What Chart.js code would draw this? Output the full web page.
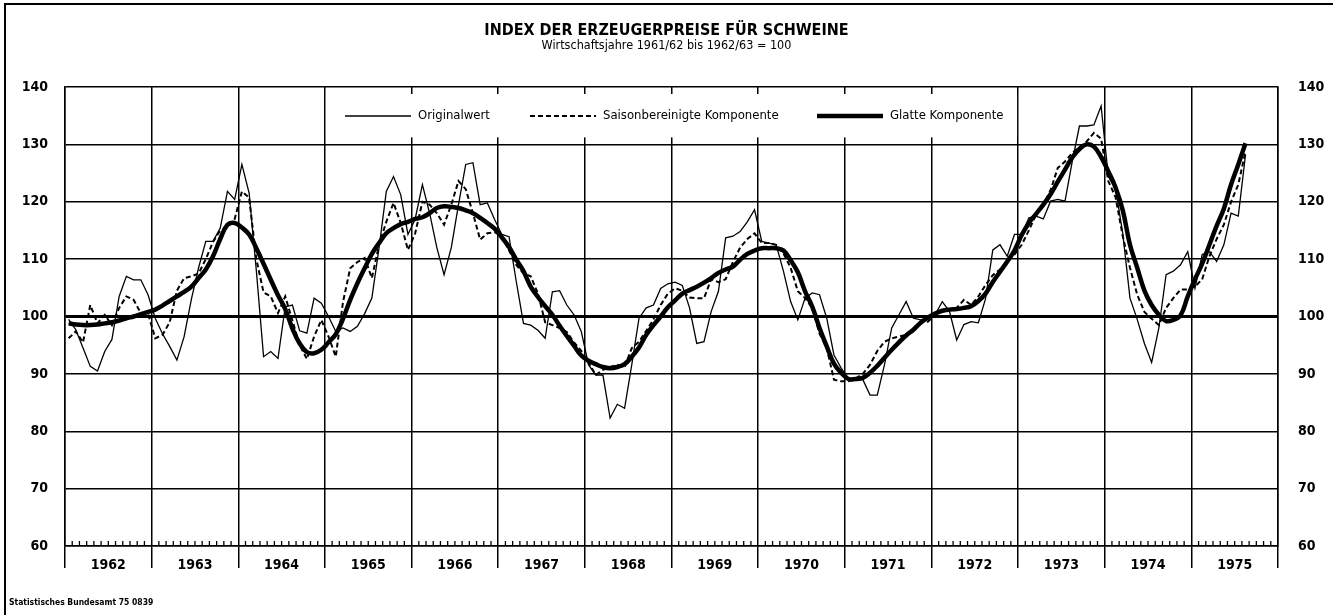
<!DOCTYPE html>
<html>
<head>
<meta charset="utf-8">
<script src="https://cdn.jsdelivr.net/npm/chart.js@4.4.1/dist/chart.umd.min.js"></script>
<style>
  html, body { margin: 0; padding: 0; background: #fff; }
  #wrap { width: 1333px; height: 615px; }
</style>
</head>
<body>
<div id="wrap"><canvas id="myChart" width="1333" height="615"></canvas></div>
<script>
// monthly values, Jan 1962 .. Aug 1975
const yearLabels = ["1962", "1963", "1964", "1965", "1966", "1967", "1968",
  "1969", "1970", "1971", "1972", "1973", "1974", "1975"];

const originalwert = [
  99.5, 97.7, 94.5, 91.3, 90.5, 93.9, 96, 103.5, 107, 106.4, 106.4, 103.8,
  99.7, 97, 94.8, 92.4, 96.5, 103, 108.5, 113.1, 113.1, 115.4, 121.8, 120.4,
  126.5, 121.5, 108, 93, 93.9, 92.7, 101.7, 102, 97.5, 97.1, 103.2, 102.3,
  100, 97.4, 98, 97.4, 98.3, 100.5, 103.2, 112, 121.8, 124.4, 121.2, 114.3,
  117, 123, 118, 112, 107.3, 112, 119.5, 126.5, 126.8, 119.5, 119.8, 116.9,
  114.3, 113.9, 106.1, 98.8, 98.5, 97.6, 96.2, 104.3, 104.5, 102, 100.3, 97.4,
  91.6, 89.8, 89.8, 82.3, 84.7, 84, 91.6, 99.7, 101.5, 102, 104.9, 105.7,
  106, 105.4, 101.5, 95.3, 95.6, 100.9, 104.4, 113.7, 114, 114.8, 116.5, 118.6,
  113.1, 112.8, 112.5, 107.9, 102.6, 99.4, 103.2, 104.1, 103.8, 99.7, 93.3, 91,
  89.2, 89.2, 89, 86.3, 86.3, 91.6, 98, 100.3, 102.6, 99.7, 99.4, 99.7,
  100.3, 102.6, 100.9, 95.9, 98.6, 99.1, 98.9, 103.1, 111.6, 112.5, 110.5, 114.3,
  114.3, 117.2, 117.5, 117, 120.1, 120.4, 120.1, 127, 133.2, 133.2, 133.4, 136.7,
  124.4, 122.3, 114.5, 103.2, 99.5, 95.3, 92, 98, 107.3, 107.9, 109, 111.3,
  104.9, 110.8, 111.3, 109.6, 112.5, 118, 117.5, 128.2
];

const saisonbereinigt = [
  96.2, 97.4, 95.5, 102, 98.8, 100.3, 98.5, 101.5, 103.5, 102.9, 100.6, 100.5,
  96.2, 96.8, 99, 104.5, 106.7, 107, 107.5, 110, 113, 115, 115.5, 117,
  121.8, 120.7, 110, 104.2, 103.5, 100.6, 103.5, 99.3, 95, 92.6, 96.5, 99.4,
  96.5, 93, 102.5, 108.4, 109.5, 110.2, 106.7, 112.5, 116.5, 119.8, 116.3, 111.6,
  114.5, 120, 119.5, 118, 116, 119.5, 123.6, 122.2, 118, 113.4, 114.5, 114.7,
  114, 111.5, 109, 107.5, 107, 104, 99, 98.5, 98, 97.3, 95.5, 94,
  92, 89.8, 90.7, 91.2, 91.6, 91.2, 94.5, 95.6, 97.5, 99.5, 102, 104,
  104.9, 104.5, 103.3, 103.2, 103.2, 106.5, 106, 106.5, 109.5, 112, 113.5, 114.5,
  112.8, 112.8, 112.5, 111, 108.5, 104.4, 103.2, 101.5, 97, 94.5, 89, 88.7,
  88.7, 89.2, 90, 91.6, 94, 95.6, 96.2, 96.5, 96.8, 97.5, 99, 99.1,
  100.2, 101, 101.3, 101.5, 102.9, 102, 103.5, 105.5, 107.2, 108.2, 109.5, 110.8,
  112.5, 115, 117.8, 119.5, 122, 125.9, 127, 128.5, 129.5, 130.5, 132, 131,
  123.6, 120.8, 114, 108.5, 103.8, 100.8, 99.6, 98.5, 101.5, 103.2, 104.7, 104.7,
  105.2, 106.5, 110.5, 113.5, 116, 120, 123, 128.8
];

const glatt = [
  98.8, 98.6, 98.5, 98.5, 98.6, 98.8, 99, 99.3, 99.7, 100, 100.4, 100.8,
  101.2, 101.9, 102.7, 103.5, 104.3, 105.2, 106.7, 108.2, 110.5, 113.5, 116, 116.3,
  115.5, 114.3, 111.9, 109.2, 106.4, 103.7, 101.3, 97.9, 95.3, 93.8, 93.6, 94.2,
  95.5, 96.9, 99.6, 102.9, 105.8, 108.4, 110.9, 112.8, 114.5, 115.4, 116.1, 116.5,
  117, 117.3, 118, 118.9, 119.2, 119.1, 118.9, 118.5, 118, 117.2, 116.3, 115.3,
  113.8, 112.1, 109.9, 107.9, 105.2, 103.4, 101.8, 100.3, 98.4, 96.6, 94.9, 93.2,
  92.3, 91.7, 91.2, 91, 91.2, 91.7, 93, 94.6, 96.8, 98.5, 100, 101.6,
  102.8, 104, 104.6, 105.2, 105.9, 106.7, 107.6, 108.2, 108.7, 109.9, 110.9, 111.5,
  111.9, 111.9, 111.9, 111.5, 109.8, 107.7, 104.4, 101.7, 98, 94.8, 91.8, 90.2,
  89.1, 89.1, 89.3, 90.2, 91.4, 92.8, 94.2, 95.5, 96.7, 97.7, 98.9, 99.8,
  100.5, 101, 101.2, 101.3, 101.5, 101.8, 102.7, 104, 106, 107.8, 109.6, 111.5,
  114.2, 116.3, 117.9, 119.5, 121.3, 123.5, 125.6, 127.7, 129.2, 130, 129.6, 127.8,
  125.3, 122.5, 118.5, 112.5, 108.5, 104.5, 102, 100.3, 99.2, 99.4, 100.2, 103.5,
  106.5, 109.2, 112.5, 115.8, 118.8, 123, 126.5, 130.2
];

const FONT = '"Liberation Sans Narrow", "DejaVu Sans Condensed", "Roboto Condensed", "Liberation Sans", sans-serif';
Chart.defaults.font.family = FONT;
Chart.defaults.color = "#000";

// month index -> x value at the middle of the month
const toPoints = (arr) => arr.map((v, i) => ({ x: i + 0.5, y: v }));

const legendItems = [
  { label: "Originalwert", x: 345, width: 1.3, dash: [] },
  { label: "Saisonbereinigte Komponente", x: 530, width: 2, dash: [5, 3] },
  { label: "Glatte Komponente", x: 817, width: 4.5, dash: [] },
];

const decor = {
  id: "decor",
  beforeDatasetsDraw(chart) {
    const { ctx, chartArea, scales } = chart;
    // white box for the legend, cutting through the grid
    const x1 = scales.x.getPixelForValue(36) + 1;
    const x2 = scales.x.getPixelForValue(132) - 1;
    const y1 = chartArea.top + 7;
    const y2 = scales.y.getPixelForValue(130) - 7;
    ctx.save();
    ctx.fillStyle = "#fff";
    ctx.fillRect(x1, y1, x2 - x1, y2 - y1);
    ctx.restore();
  },
  afterDatasetsDraw(chart) {
    const { ctx, chartArea, scales } = chart;
    ctx.save();
    // legend
    ctx.strokeStyle = "#000";
    ctx.fillStyle = "#000";
    ctx.font = "13px " + FONT;
    ctx.textBaseline = "middle";
    const ly = 116;
    legendItems.forEach((it) => {
      ctx.lineWidth = it.width;
      ctx.setLineDash(it.dash);
      ctx.beginPath();
      ctx.moveTo(it.x, ly);
      ctx.lineTo(it.x + 66, ly);
      ctx.stroke();
      ctx.setLineDash([]);
      ctx.fillText(it.label, it.x + 73, ly);
    });

    // monthly ticks on the bottom axis
    ctx.lineWidth = 1.3;
    for (let m = 1; m < 168; m++) {
      if (m % 12 === 0) continue;
      const x = scales.x.getPixelForValue(m);
      ctx.beginPath();
      ctx.moveTo(x, chartArea.bottom);
      ctx.lineTo(x, chartArea.bottom - 5);
      ctx.stroke();
    }

    // frame of the sheet
    ctx.lineWidth = 2;
    ctx.beginPath();
    ctx.moveTo(5, chart.height);
    ctx.lineTo(5, 4);
    ctx.lineTo(chart.width, 4);
    ctx.stroke();

    ctx.font = "bold 8.5px " + FONT;
    ctx.textBaseline = "alphabetic";
    ctx.fillText("Statistisches Bundesamt 75 0839", 9, 605);
    ctx.restore();
  },
};

new Chart(document.getElementById("myChart"), {
  type: "line",
  data: {
    datasets: [
      {
        label: "Glatte Komponente",
        data: toPoints(glatt),
        borderColor: "#000",
        borderWidth: 4.5,
        tension: 0.4,
        pointRadius: 0,
        order: 0,
      },
      {
        label: "Saisonbereinigte Komponente",
        data: toPoints(saisonbereinigt),
        borderColor: "#000",
        borderWidth: 2,
        borderDash: [5, 3],
        tension: 0,
        pointRadius: 0,
        order: 1,
      },
      {
        label: "Originalwert",
        data: toPoints(originalwert),
        borderColor: "#000",
        borderWidth: 1.3,
        tension: 0,
        pointRadius: 0,
        order: 2,
      },
    ],
  },
  options: {
    responsive: false,
    animation: false,
    layout: { padding: 0 },
    plugins: {
      legend: { display: false },
      tooltip: { enabled: false },
      title: {
        display: true,
        text: "INDEX DER ERZEUGERPREISE FÜR SCHWEINE",
        font: { size: 16, weight: "bold", lineHeight: 1 },
        padding: { top: 23, bottom: 0 },
        color: "#000",
      },
      subtitle: {
        display: true,
        text: "Wirtschaftsjahre 1961/62 bis 1962/63 = 100",
        font: { size: 12.5, lineHeight: 1 },
        padding: { top: 0, bottom: 35.5 },
        color: "#000",
      },
    },
    scales: {
      x: {
        type: "linear",
        min: 0,
        max: yearLabels.length * 12,
        afterBuildTicks(scale) {
          const t = [];
          for (let v = 0; v <= yearLabels.length * 12; v += 6) t.push({ value: v });
          scale.ticks = t;
        },
        afterFit(scale) { scale.height = 69; },
        grid: {
          color: (c) => (c.tick && c.tick.value % 12 === 0 ? "#000" : "rgba(0,0,0,0)"),
          tickColor: (c) => (c.tick && c.tick.value % 12 === 0 ? "#000" : "rgba(0,0,0,0)"),
          lineWidth: 1.5,
          tickWidth: 1.5,
          drawTicks: true,
          tickLength: 22,
        },
        border: { display: true, color: "#000", width: 1.5 },
        ticks: {
          autoSkip: false,
          maxRotation: 0,
          padding: -11,
          font: { size: 14, weight: "bold" },
          callback: (v) => (v % 12 === 6 ? yearLabels[(v - 6) / 12] : ""),
        },
      },
      y: {
        position: "left",
        min: 60,
        max: 140,
        afterFit(scale) { scale.width = 65; },
        ticks: { stepSize: 10, padding: 17, font: { size: 14, weight: "bold" } },
        grid: {
          color: "#000",
          lineWidth: (c) => (c.tick && c.tick.value === 100 ? 3 : 1.5),
          drawTicks: false,
        },
        border: { display: true, color: "#000", width: 1.5 },
      },
      y2: {
        position: "right",
        min: 60,
        max: 140,
        afterFit(scale) { scale.width = 55; },
        ticks: { stepSize: 10, padding: 20, font: { size: 14, weight: "bold" } },
        grid: { drawOnChartArea: false, drawTicks: false },
        border: { display: true, color: "#000", width: 1.5 },
      },
    },
  },
  plugins: [decor],
});
</script>
</body>
</html>
